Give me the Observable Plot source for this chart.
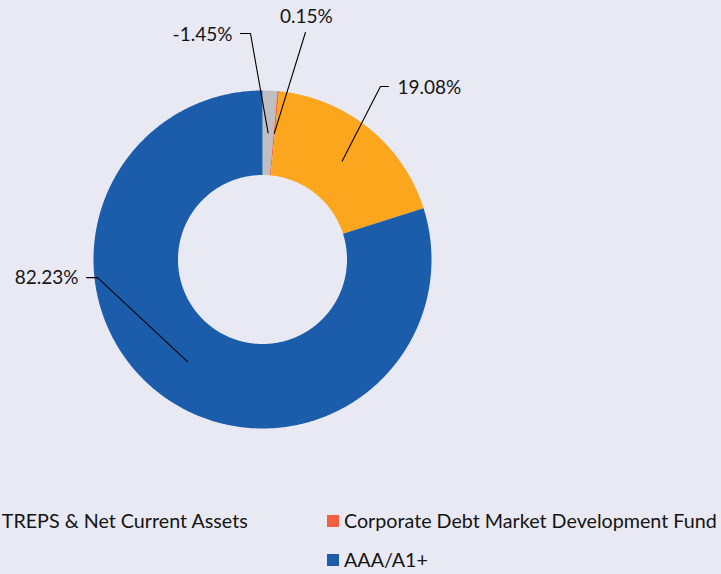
<!DOCTYPE html>
<html><head><meta charset="utf-8">
<script src="https://cdn.jsdelivr.net/npm/d3@7"></script>
<script src="https://cdn.jsdelivr.net/npm/@observablehq/plot@0.6"></script>
<style>
html,body{margin:0;padding:0;background:#E9E9F3;overflow:hidden;width:721px;height:574px;}
#chart{position:relative;width:721px;height:574px;}
#legend{position:relative;width:721px;height:74px;}
.item{position:absolute;font-family:Lato,sans-serif;font-size:19.7px;color:#141414;white-space:nowrap;display:flex;align-items:center;line-height:1;}
.sw{width:12px;height:12px;display:inline-block;margin-right:5px;flex:none;}
svg{display:block;}
</style></head><body><div id="chart"></div>
<script>
// ---- data ----
const categories = ["Cash & Cash Equivalent / TREPS & Net Current Assets", "Corporate Debt Market Development Fund", "Sovereign", "AAA/A1+"];
const values = [-1.45, 0.15, 19.08, 82.23];
const valueLabels = ["-1.45%", "0.15%", "19.08%", "82.23%"];
const colors = ["#BFBFBF", "#F2603F", "#FBA61C", "#1B5DAA"];

// ---- layout (label placement in unit-radius coordinates) ----
const innerR = 0.5, outerR = 1, anchorR = 0.75;
const labelLayout = [
  {knee: [-0.071, 1.337], tail: [-0.130, 1.337], text: [-0.178, 1.331], anchor: "end"},
  {knee: [0.254, 1.343], tail: [0.254, 1.343], text: [0.260, 1.438], anchor: "middle"},
  {knee: [0.698, 1.024], tail: [0.746, 1.024], text: [0.799, 1.018], anchor: "start"},
  {knee: [-0.976, -0.107], tail: [-1.041, -0.107], text: [-1.089, -0.107], anchor: "end"}
];

const data = categories.map((c, i) => ({category: c, value: values[i], label: valueLabels[i]}));
const arcs = d3.pie().sort(null).value(d => Math.abs(d.value))(data);

// polygon points for each slice
const slicePts = [];
arcs.forEach(a => {
  const n = Math.max(2, Math.ceil((a.endAngle - a.startAngle) / (2 * Math.PI) * 720));
  for (let k = 0; k <= n; k++) {
    const t = a.startAngle + (a.endAngle - a.startAngle) * k / n;
    slicePts.push({category: a.data.category, x: outerR * Math.sin(t), y: outerR * Math.cos(t)});
  }
  for (let k = n; k >= 0; k--) {
    const t = a.startAngle + (a.endAngle - a.startAngle) * k / n;
    slicePts.push({category: a.data.category, x: innerR * Math.sin(t), y: innerR * Math.cos(t)});
  }
});

// leader lines
const leaderPts = [];
const textPts = [];
arcs.forEach((a, i) => {
  const m = (a.startAngle + a.endAngle) / 2;
  const L = labelLayout[i];
  const id = a.data.category;
  leaderPts.push({id, x: anchorR * Math.sin(m), y: anchorR * Math.cos(m)});
  leaderPts.push({id, x: L.knee[0], y: L.knee[1]});
  leaderPts.push({id, x: L.tail[0], y: L.tail[1]});
  textPts.push({label: a.data.label, x: L.text[0], y: L.text[1], anchor: L.anchor});
});

const font = "Lato, sans-serif";
const textMark = (anchor) => Plot.text(textPts.filter(d => d.anchor === anchor), {
  x: "x", y: "y", text: "label", textAnchor: anchor, fontSize: 19, fontFamily: font, fill: "#141414"
});

const plot = Plot.plot({
  width: 721, height: 500,
  marginLeft: 93, marginRight: 290, marginTop: 90, marginBottom: 72,
  x: {domain: [-1, 1], axis: null},
  y: {domain: [-1, 1], axis: null},
  color: {domain: categories, range: colors},
  style: {background: "#E9E9F3", overflow: "visible"},
  marks: [
    Plot.line(slicePts, {x: "x", y: "y", z: "category", fill: "category", stroke: "none"}),
    Plot.line(leaderPts, {x: "x", y: "y", z: "id", stroke: "#000", strokeWidth: 1.1}),
    textMark("start"), textMark("middle"), textMark("end")
  ]
});
const chart = document.getElementById("chart");
chart.appendChild(plot);

// ---- legend (HTML, below the SVG) ----
const legend = document.createElement("div");
legend.id = "legend";
chart.appendChild(legend);
const rowsY = [17, 56];
function makeItem(i) {
  const el = document.createElement("div");
  el.className = "item";
  el.innerHTML = `<span class="sw" style="background:${colors[i]}"></span><span>${categories[i]}</span>`;
  legend.appendChild(el);
  return el;
}
// visible legend entries (the Sovereign entry of the left column lies outside the picture)
const e0 = makeItem(0), e1 = makeItem(1), e3 = makeItem(3);
e1.style.left = "327px"; e1.style.top = (rowsY[0] - 6) + "px";
e3.style.left = "327px"; e3.style.top = (rowsY[1] - 6) + "px";
// left column: text of first item ends at x = 248
const w0 = e0.offsetWidth;
e0.style.left = (248 - w0) + "px"; e0.style.top = (rowsY[0] - 6) + "px";
</script>
</body></html>
